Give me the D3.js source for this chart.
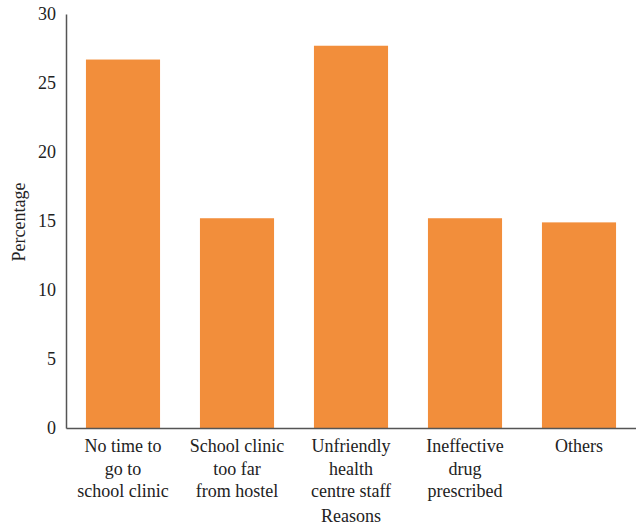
<!DOCTYPE html>
<html><head><meta charset="utf-8">
<script src="https://cdn.jsdelivr.net/npm/d3@7"></script>
<style>body{margin:0;background:#fff}svg text{font-family:"Liberation Serif","DejaVu Serif",serif;fill:#222}</style>
</head><body>
<svg id="c" width="636" height="527"></svg>
<script>
const categories = [
  ["No time to","go to","school clinic"],
  ["School clinic","too far","from hostel"],
  ["Unfriendly","health","centre staff"],
  ["Ineffective","drug","prescribed"],
  ["Others"]
];
const values = [26.7, 15.2, 27.7, 15.2, 14.9];
const yTicks = [0,5,10,15,20,25,30];

const svg = d3.select("#c");
const x0 = 66, x1 = 636, yTop = 14, yBot = 428;
const keys = categories.map((c,i)=>i);
const x = d3.scaleBand().domain(keys).range([x0,x1]).paddingInner(0.35).paddingOuter(0.175);
const y = d3.scaleLinear().domain([0,30]).range([yBot,yTop]);

svg.selectAll("rect.bar").data(values).join("rect")
  .attr("class","bar")
  .attr("x",(d,i)=>x(i)).attr("width",x.bandwidth())
  .attr("y",d=>y(d)).attr("height",d=>y(0)-y(d))
  .attr("fill","#f28e3b");

// y axis
const ya = svg.append("g").attr("transform",`translate(${x0},0)`)
  .call(d3.axisLeft(y).tickValues(yTicks).tickSize(0).tickPadding(10).tickFormat(d3.format("d")));
ya.select(".domain").attr("stroke","#555").attr("stroke-width",1.5);
ya.selectAll("text").style("font-size","18px").attr("fill","#222");

// x axis
const xa = svg.append("g").attr("transform",`translate(0,${yBot})`)
  .call(d3.axisBottom(x).tickSize(0).tickFormat(""));
xa.select(".domain").attr("stroke","#555").attr("stroke-width",1.5);

const lab = svg.append("g");
categories.forEach((lines,i)=>{
  const t = lab.append("text").attr("text-anchor","middle").style("font-size","18px");
  lines.forEach((l,j)=>{
    t.append("tspan").attr("x",x(i)+x.bandwidth()/2).attr("y",452+j*22.5).text(l);
  });
});

svg.append("text").attr("x",351).attr("y",522).attr("text-anchor","middle").style("font-size","18px").text("Reasons");
svg.append("text").attr("transform","translate(25,222) rotate(-90)").attr("text-anchor","middle").style("font-size","18px").text("Percentage");
</script>
</body></html>
